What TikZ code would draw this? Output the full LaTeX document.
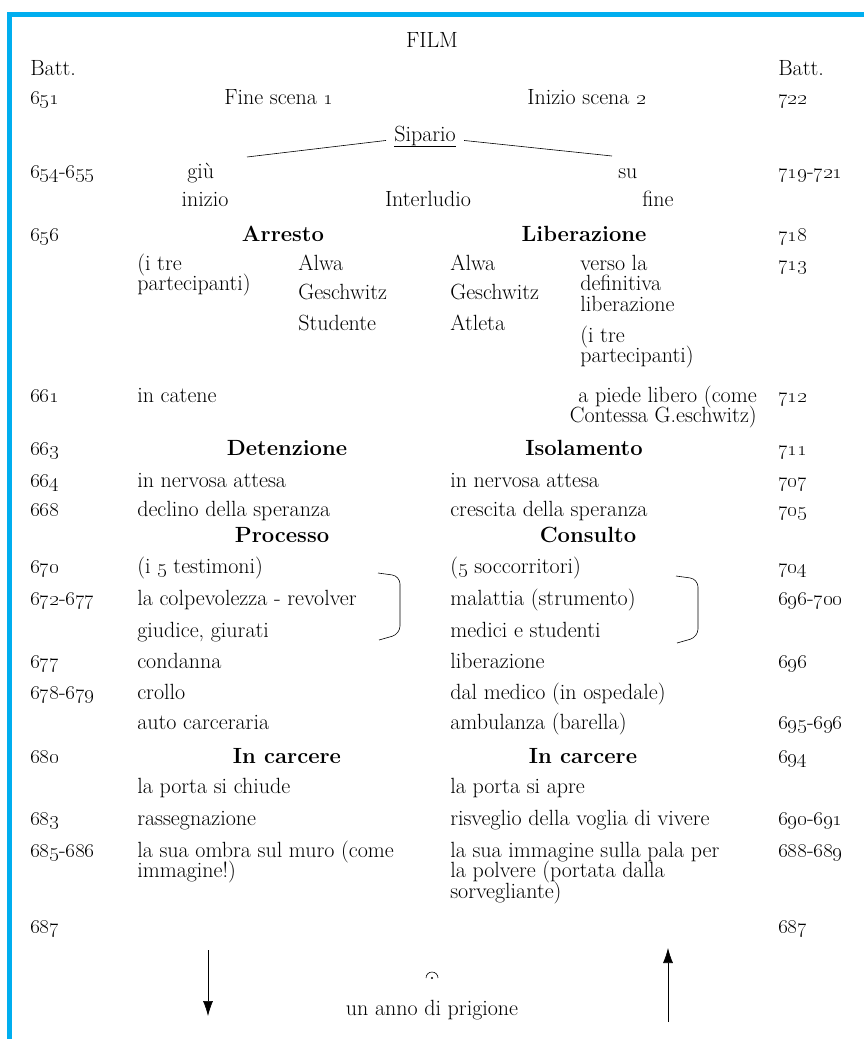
\documentclass[tikz,border=0pt]{standalone}
\usepackage{tikz}
\usetikzlibrary{arrows.meta}

\newcommand{\osn}[1]{\oldstylenums{#1}}
% stacked lines, baseline on the first line
\newcommand{\linesL}[1]{\vtop{\lineskiplimit=-6pt\halign{##\hfil\cr#1\crcr}}}
\newcommand{\linesR}[1]{\vtop{\lineskiplimit=-6pt\halign{\hfil##\cr#1\crcr}}}
\definecolor{framecol}{RGB}{0,174,239}

\begin{document}
\begin{tikzpicture}[
    x=1pt, y=-1pt, semithick,
    every node/.style={inner sep=0pt, font=\fontsize{22}{20.5}\selectfont},
    num/.style={anchor=base west},                 % bar numbers
    txt/.style={anchor=base west},                 % plain entries
    mid/.style={anchor=base},                      % centred entries
    head/.style={anchor=base, font=\fontsize{22}{20.5}\selectfont\bfseries} % section titles
]
\useasboundingbox (0,0) rectangle (864,1039);

% Frame
\fill[framecol] (7,11.5) rectangle (864,16.5);
\fill[framecol] (7,11.5) rectangle (12,1039);

% Title
\node[mid] (film) at (432,47) {FILM};
\node[num] (battL) at (30,75) {Batt.};
\node[num] (battR) at (778,75) {Batt.};

% Curtain
\node[num] (n651) at (30,104) {\osn{651}};
\node[txt] (fine1) at (224,104) {Fine scena \osn{1}};
\node[txt] (inizio2) at (527,104) {Inizio scena \osn{2}};
\node[num] (n722) at (778,104) {\osn{722}};

\node[mid] (sip) at (425,141) {\underline{Sipario}};
\node[num] (n654) at (30,178) {\osn{654}-\osn{655}};
\node[txt] (giu) at (187,178) {giù};
\node[txt] (su) at (618,178) {su};
\node[num] (n719) at (778,178) {\osn{719}-\osn{721}};

\coordinate (giuTop) at (247,157);
\coordinate (suTop) at (612,156);
\draw ([xshift=-8pt,yshift=-4pt]sip.west) -- (giuTop);
\draw ([xshift=8pt,yshift=-4pt]sip.east) -- (suTop);

\node[mid] (iniz) at (205,206) {inizio};
\node[mid] (interl) at (428,206) {Interludio};
\node[mid] (fin) at (658,206) {fine};

% Arresto / Liberazione
\node[num] (n656) at (30,241) {\osn{656}};
\node[head] (arresto) at (283,241) {Arresto};
\node[head] (liber) at (584,241) {Liberazione};
\node[num] (n718) at (778,241) {\osn{718}};

\node[txt] (treL) at (137,270) {\linesL{(i tre\cr partecipanti)}};
\node[txt] (alwaL) at (298,270) {Alwa};
\node[txt] (geschL) at (298,299) {Geschwitz};
\node[txt] (studL) at (298,330) {Studente};
\node[txt] (alwaR) at (450,270) {Alwa};
\node[txt] (geschR) at (450,299) {Geschwitz};
\node[txt] (atleta) at (450,330) {Atleta};
\node[txt] (verso) at (580,270) {\linesL{verso la\cr definitiva\cr liberazione}};
\node[txt] (treR) at (580,342) {\linesL{(i tre\cr partecipanti)}};
\node[num] (n713) at (778,270) {\osn{713}};

\node[num] (n661) at (30,402) {\osn{661}};
\node[txt] (catene) at (137,402) {in catene};
\node[anchor=base east] (piede) at (757,402) {\linesR{a piede libero (come\cr Contessa G.eschwitz)}};
\node[num] (n712) at (778,402) {\osn{712}};

% Detenzione / Isolamento
\node[num] (n663) at (30,455) {\osn{663}};
\node[head] (deten) at (287,455) {Detenzione};
\node[head] (isol) at (584,455) {Isolamento};
\node[num] (n711) at (778,455) {\osn{711}};

\node[num] (n664) at (30,487) {\osn{664}};
\node[txt] (attL) at (137,487) {in nervosa attesa};
\node[txt] (attR) at (450,487) {in nervosa attesa};
\node[num] (n707) at (778,487) {\osn{707}};

\node[num] (n668) at (30,516) {\osn{668}};
\node[txt] (declino) at (137,516) {declino della speranza};
\node[txt] (crescita) at (450,516) {crescita della speranza};
\node[num] (n705) at (778,516) {\osn{705}};

% Processo / Consulto
\node[head] (proc) at (282,542) {Processo};
\node[head] (cons) at (588,542) {Consulto};

\node[num] (n670) at (30,573) {\osn{670}};
\node[txt] (testim) at (137,573) {(i \osn{5} testimoni)};
\node[txt] (soccor) at (450,573) {(\osn{5} soccorritori)};
\node[num] (n704) at (778,573) {\osn{704}};

\node[num] (n672) at (30,605) {\osn{672}-\osn{677}};
\node[txt] (colpa) at (137,605) {la colpevolezza - revolver};
\node[txt] (malat) at (450,605) {malattia (strumento)};
\node[num] (n696a) at (778,605) {\osn{696}-\osn{700}};

\node[txt] (giudice) at (137,637) {giudice, giurati};
\node[txt] (medici) at (450,637) {medici e studenti};

% Brackets
\draw[rounded corners=8pt] (378,573) -- (400,576) -- (400,634) -- (379,640);
\draw[rounded corners=8pt] (676,576) -- (698,579) -- (698,637) -- (677,643);

\node[num] (n677) at (30,668) {\osn{677}};
\node[txt] (condanna) at (137,668) {condanna};
\node[txt] (liberaz) at (450,668) {liberazione};
\node[num] (n696b) at (778,668) {\osn{696}};

\node[num] (n678) at (30,699) {\osn{678}-\osn{679}};
\node[txt] (crollo) at (137,699) {crollo};
\node[txt] (medico) at (450,699) {dal medico (in ospedale)};

\node[txt] (auto) at (137,729) {auto carceraria};
\node[txt] (ambul) at (450,729) {ambulanza (barella)};
\node[num] (n695) at (778,729) {\osn{695}-\osn{696}};

% In carcere
\node[num] (n680) at (30,763) {\osn{680}};
\node[head] (carcL) at (287,763) {In carcere};
\node[head] (carcR) at (583,763) {In carcere};
\node[num] (n694) at (778,763) {\osn{694}};

\node[txt] (chiude) at (137,793) {la porta si chiude};
\node[txt] (apre) at (450,793) {la porta si apre};

\node[num] (n683) at (30,825) {\osn{683}};
\node[txt] (rassegn) at (137,825) {rassegnazione};
\node[txt] (risv) at (450,825) {risveglio della voglia di vivere};
\node[num] (n690) at (778,825) {\osn{690}-\osn{691}};

\node[num] (n685) at (30,857) {\osn{685}-\osn{686}};
\node[txt] (ombra) at (137,857) {\linesL{la sua ombra sul muro (come\cr immagine!)}};
\node[txt] (immag) at (450,857) {\linesL{la sua immagine sulla pala per\cr la polvere (portata dalla\cr sorvegliante)}};
\node[num] (n688) at (778,857) {\osn{688}-\osn{689}};

% Year in prison
\node[num] (n687L) at (30,933) {\osn{687}};
\node[num] (n687R) at (778,933) {\osn{687}};

\coordinate (downTop) at (208,950);
\coordinate (downEnd) at (208,1016);
\coordinate (upStart) at (668,1022);
\coordinate (upEnd) at (668,948);
\draw[-{Latex[length=15pt,width=10pt]}] (downTop) -- (downEnd);
\draw[-{Latex[length=15pt,width=10pt]}] (upStart) -- (upEnd);

% Fermata
\draw (426,978) arc (180:360:6);
\fill (432,978) circle (1.2);

\node[mid] (anno) at (432,1015) {un anno di prigione};

\end{tikzpicture}
\end{document}
